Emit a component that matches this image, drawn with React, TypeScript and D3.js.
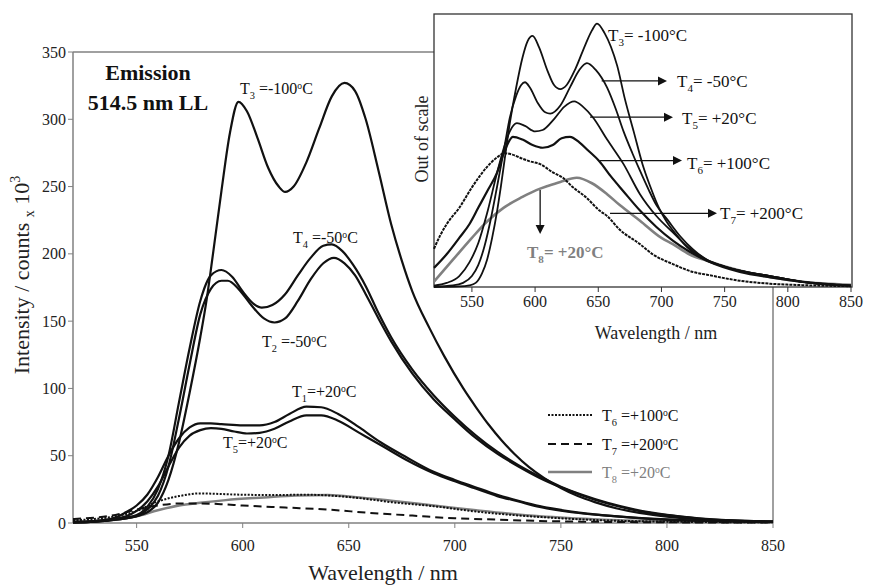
import * as d3 from 'd3';

// main panel: emission spectra, intensity in counts x 10^3, [wavelength nm, value]
const mainT1 = [[520,1],[530,1.5],[540,4],[545,8],[550,13],[555,21],[560,34],[565,50],[570,63],[575,71],[580,74],[585,74],[590,73.5],[600,72.5],[608,72.5],[615,75],[622,81],[630,86.5],[637,86],[645,81],[655,71],[665,60],[677,49],[690,38],[700,32],[709,27],[720,21],[730,16.5],[740,12.5],[755,8.5],[772,5.5],[790,3.5],[810,2],[830,1.2],[850,0.8]];
const mainT2 = [[520,0.5],[530,1],[540,2.5],[550,5],[555,10],[560,20],[565,42],[570,78],[575,118],[580,155],[585,174],[590,180],[593,180],[598,174],[604,162],[610,152],[615,149],[620,152],[626,165],[632,181],[638,193],[643,197],[648,193],[653,184],[658,170],[664,152],[670,135],[680,111],[690,92],[700,77],[710,63],[720,51.5],[730,42],[740,33.5],[750,26.5],[760,20.5],[772,14.5],[785,9.5],[800,5.8],[815,3.3],[830,1.9],[850,1]];
const mainT3 = [[520,0.5],[530,1],[540,2.5],[550,5],[555,8],[560,15],[565,32],[570,60],[575,97],[580,138],[583,166],[586,200],[590,247],[594,290],[598,313],[602,306],[607,286],[612,264],[617,250],[620,246],[624,250],[630,268],[636,293],[642,317],[648,327],[653,321],[658,300],[664,262],[670,222],[675,195],[680,172],[688,145],[695,124],[704,100],[710,86],[716,73],[722,61.5],[728,51.5],[735,41.5],[742,33.5],[750,26],[758,20],[766,15.5],[776,11],[787,7.5],[800,4.8],[815,2.8],[830,1.7],[850,1]];
const mainT4 = [[520,0.5],[530,1],[540,3],[550,6],[555,12],[560,25],[565,50],[570,90],[575,130],[580,165],[585,184],[590,188],[595,183],[600,172],[605,163],[609,160],[614,162],[620,170],[626,184],[632,197],[638,206],[642,207],[647,202],[652,192],[658,176],[664,156],[670,138],[680,114],[690,95],[700,79],[710,65],[720,53],[730,43],[740,34.5],[750,27],[760,21],[772,15],[785,10],[800,6],[815,3.5],[830,2],[850,1]];
const mainT5 = [[520,0.5],[530,1],[540,3],[545,5],[550,9],[555,16],[560,27],[565,42],[570,56],[575,65],[580,69],[585,70.5],[590,70],[596,68],[602,66.5],[608,67],[615,70],[622,75.5],[630,80],[637,80],[645,76],[655,67],[665,58],[677,47],[690,37],[700,31],[709,26],[720,20],[730,16],[740,12],[755,8],[772,5.5],[790,3.3],[810,1.9],[830,1.1],[850,0.8]];
const mainT6 = [[520,2],[530,3],[540,5],[550,9],[560,16],[570,20],[580,22],[590,21.5],[600,21],[615,20.8],[630,21],[640,20.5],[655,18.5],[670,15.5],[690,12.5],[710,8.5],[740,4.5],[770,2],[800,1],[850,0.5]];
const mainT7 = [[520,3],[530,4],[540,6],[550,10],[560,13],[570,14.5],[580,14.5],[590,14],[600,13],[620,11.5],[640,10],[660,7.5],[680,5.5],[700,3.5],[720,2.5],[740,1.5],[760,1],[800,0.5],[850,0.3]];
const mainT8 = [[520,1],[530,1.5],[540,2.5],[550,5],[560,9.5],[570,13],[580,15],[592,17],[610,19],[625,20.5],[640,20.8],[655,19],[670,16.5],[690,13],[710,9.5],[740,5],[770,2.5],[800,1.2],[850,0.5]];

// inset: arbitrary units ("out of scale")
const insetT3 = [[520,0],[540,0.2],[548,0.6],[553,1.5],[558,5],[562,10],[566,18],[570,28],[573,37],[576,47],[580,60],[585,73],[590,84],[594,90],[598,92],[603,88],[610,79],[615,74],[620,72.5],[625,74],[632,80],[640,89],[645,94],[649,96.5],[655,93],[660,88],[665,81],[671,69],[678,57],[685,45],[691,37],[698,29],[704,24],[712,19],[720,14.7],[736,9.6],[750,7.5],[762,6],[786,4],[810,2],[830,1],[850,0.5]];
const insetT4 = [[520,0.2],[535,0.6],[543,1.5],[550,4],[555,8],[560,15],[565,25],[570,37],[576,52],[580,62],[585,70],[589,74],[592,75],[596,73],[602,67.5],[608,64],[612,63.5],[620,66.5],[628,73.5],[635,79.5],[641,82],[648,79.5],[657,73],[664,65],[670,57],[677,49],[683,42.6],[690,35.5],[696,30],[705,24.5],[715,18.5],[725,13.8],[736,10],[750,7.5],[762,6],[786,4],[810,2],[830,1],[850,0.5]];
const insetT5 = [[520,0.5],[530,1.5],[540,4],[548,9],[555,16],[562,27],[570,42],[576,52],[580,57],[585.6,60],[592,59],[600,57],[606,57.5],[615,61.5],[623,66],[631,68],[638,66],[646,62],[657,54],[670,45],[683,34],[696,26],[709,20],[722,14.3],[736,10],[750,7.5],[762,6],[786,4],[810,2],[830,1],[850,0.5]];
const insetT6 = [[520,7],[530,12],[540,18],[548,23],[555,29],[562,35],[570,42],[576,50],[582.5,55],[590,54],[598,52],[606,51],[614,52],[621,54.5],[627.6,55],[635,53],[642,50],[651,46],[660,40.5],[670,35],[683,28],[696,22],[709,17],[722,13],[736,9.6],[762,5.5],[786,3.5],[810,2],[850,0.5]];
const insetT7 = [[520,14],[525,19],[530,23],[540,29],[550,36.5],[562,44],[570,47.5],[576,49],[582,48.5],[590,47],[596,46],[604,45],[614,42],[622,40],[630,36.5],[640,33],[651,28],[657,26],[667,21],[683,15.7],[693,12],[709,8.4],[725,5.5],[736,4.5],[762,2.3],[786,1.2],[810,0.7],[850,0.3]];
const insetT8 = [[520,2],[535,10],[550,18],[562,24],[575,29],[590,33],[601,35.5],[610,37],[620,38.5],[633,40],[645,38],[657,34],[667,30],[683,24.3],[700,18],[709,15.7],[722,12],[736,9.6],[762,6],[786,3.7],[810,2],[850,0.8]];

const xTicks = [550, 600, 650, 700, 750, 800, 850];
const yTicks = [0, 50, 100, 150, 200, 250, 300, 350];

const FONT = '"Liberation Serif", "Times New Roman", serif';
const INK = '#111';
const GRAY = '#808080';

function TLabel({ x, y, sub, rest, size = 16, fill = INK, supO = false, weight = 'normal' }) {
  const d = size * 0.3;
  return (
    <text x={x} y={y} fontSize={size} fill={fill} fontFamily={FONT} fontWeight={weight}>
      T
      <tspan dy={d} fontSize={size * 0.65}>{sub}</tspan>
      <tspan dy={-d}>{rest}</tspan>
      {supO && (
        <>
          <tspan dy={-size * 0.32} fontSize={size * 0.6}>o</tspan>
          <tspan dy={size * 0.32}>C</tspan>
        </>
      )}
    </text>
  );
}

function Arrow({ x1, y1, x2, y2 }) {
  const ang = Math.atan2(y2 - y1, x2 - x1);
  const L = 9, W = 4.5;
  const bx = x2 - L * Math.cos(ang), by = y2 - L * Math.sin(ang);
  const px = -Math.sin(ang) * W, py = Math.cos(ang) * W;
  return (
    <g>
      <line x1={x1} y1={y1} x2={bx} y2={by} stroke={INK} strokeWidth={1.3} />
      <path d={`M${x2},${y2}L${bx + px},${by + py}L${bx - px},${by - py}Z`} fill={INK} />
    </g>
  );
}

export default function App() {
  const W = 872, H = 587;
  const x = d3.scaleLinear().domain([520, 850]).range([73, 773]);
  const y = d3.scaleLinear().domain([0, 350]).range([523, 52]);
  const xi = d3.scaleLinear().domain([520, 850]).range([434, 851]);
  const yi = d3.scaleLinear().domain([0, 100]).range([287, 14]);

  const line = d3.line().x(d => x(d[0])).y(d => y(d[1])).curve(d3.curveMonotoneX);
  const lineI = d3.line().x(d => xi(d[0])).y(d => yi(d[1])).curve(d3.curveMonotoneX);

  const mainSolid = [mainT1, mainT2, mainT3, mainT4, mainT5];
  const insetSolid = [insetT3, insetT4, insetT5, insetT6];

  return (
    <svg width={W} height={H} style={{ position: 'absolute', left: 0, top: 0, background: '#fff' }}>
      <rect width={W} height={H} fill="#fff" />

      {/* main frame */}
      <g stroke={GRAY} strokeWidth={1.5} fill="none">
        <line x1={73} y1={52} x2={434} y2={52} />
        <line x1={773} y1={287} x2={773} y2={523} />
        <line x1={73} y1={52} x2={73} y2={523} />
        <line x1={73} y1={523} x2={773} y2={523} />
      </g>
      {yTicks.map(t => (
        <g key={'y' + t}>
          <line x1={68} x2={73} y1={y(t)} y2={y(t)} stroke={GRAY} strokeWidth={1} />
          <text x={66} y={y(t)} dy="0.35em" textAnchor="end" fontSize={16} fontFamily={FONT} fill="#222">{t}</text>
        </g>
      ))}
      {xTicks.map(t => (
        <g key={'x' + t}>
          <line x1={x(t)} x2={x(t)} y1={523} y2={528} stroke={GRAY} strokeWidth={1} />
          <text x={x(t)} y={545} dy="0.35em" textAnchor="middle" fontSize={16} fontFamily={FONT} fill="#222">{t}</text>
        </g>
      ))}
      <text x={383} y={580} textAnchor="middle" fontSize={22} fontFamily={FONT} fill="#222">Wavelength / nm</text>
      <text transform="translate(29,275) rotate(-90)" textAnchor="middle" fontSize={22} fontFamily={FONT} fill="#222">
        Intensity / counts <tspan dy={5} fontSize={14}>x</tspan><tspan dy={-5}> 10</tspan><tspan dy={-9} fontSize={14}>3</tspan>
      </text>
      <text x={148} y={80} textAnchor="middle" fontSize={22} fontWeight="bold" fontFamily={FONT} fill={INK}>Emission</text>
      <text x={148} y={110} textAnchor="middle" fontSize={22} fontWeight="bold" fontFamily={FONT} fill={INK}>514.5 nm LL</text>

      {/* main curves */}
      <path d={line(mainT8)} fill="none" stroke={GRAY} strokeWidth={2.5} />
      <path d={line(mainT6)} fill="none" stroke={INK} strokeWidth={2} strokeDasharray="2,1.5" />
      <path d={line(mainT7)} fill="none" stroke={INK} strokeWidth={2} strokeDasharray="8,5" />
      {mainSolid.map((s, i) => (
        <path key={i} d={line(s)} fill="none" stroke={INK} strokeWidth={2.2} />
      ))}

      <TLabel x={240} y={94} sub="3" rest=" =-100" supO />
      <TLabel x={293} y={243} sub="4" rest=" =-50" supO />
      <TLabel x={262} y={347} sub="2" rest=" =-50" supO />
      <TLabel x={292} y={397} sub="1" rest="=+20" supO />
      <TLabel x={223} y={448} sub="5" rest="=+20" supO />

      {/* legend */}
      <line x1={548} x2={592} y1={415} y2={415} stroke={INK} strokeWidth={2} strokeDasharray="2,1.5" />
      <line x1={548} x2={592} y1={444} y2={444} stroke={INK} strokeWidth={2} strokeDasharray="8,5" />
      <line x1={548} x2={592} y1={472} y2={472} stroke={GRAY} strokeWidth={2.5} />
      <TLabel x={602} y={421} sub="6" rest=" =+100" supO />
      <TLabel x={602} y={450} sub="7" rest=" =+200" supO />
      <TLabel x={602} y={478} sub="8" rest=" =+20" supO fill={GRAY} />

      {/* inset */}
      <rect x={434} y={14} width={418} height={273} fill="#fff" stroke="#333" strokeWidth={1.3} />
      {xTicks.map(t => (
        <g key={'xi' + t}>
          <line x1={xi(t)} x2={xi(t)} y1={287} y2={292} stroke="#333" strokeWidth={1} />
          <text x={xi(t)} y={301} dy="0.35em" textAnchor="middle" fontSize={16} fontFamily={FONT} fill="#222">{t}</text>
        </g>
      ))}
      <text x={656} y={339} textAnchor="middle" fontSize={18} fontFamily={FONT} fill="#222">Wavelength / nm</text>
      <text transform="translate(428,139) rotate(-90)" textAnchor="middle" fontSize={18} fontFamily={FONT} fill="#222">Out of scale</text>

      <path d={lineI(insetT8)} fill="none" stroke={GRAY} strokeWidth={2.6} />
      <path d={lineI(insetT7)} fill="none" stroke={INK} strokeWidth={2} strokeDasharray="3,1" />
      {insetSolid.map((s, i) => (
        <path key={i} d={lineI(s)} fill="none" stroke={INK} strokeWidth={i === 3 ? 2.2 : 1.8} />
      ))}

      <Arrow x1={xi(652.7)} y1={yi(75.5)} x2={667} y2={yi(75.5)} />
      <Arrow x1={xi(643.5)} y1={yi(62.2)} x2={673} y2={yi(62.2)} />
      <Arrow x1={xi(651.4)} y1={yi(46.3)} x2={682} y2={yi(46.3)} />
      <Arrow x1={xi(659.3)} y1={yi(27)} x2={717} y2={yi(27)} />
      <Arrow x1={xi(604)} y1={yi(35.5)} x2={xi(604)} y2={234} />

      <TLabel x={608} y={41} sub="3" rest="= -100°C" size={17} />
      <TLabel x={677} y={87} sub="4" rest="= -50°C" size={17} />
      <TLabel x={682} y={124} sub="5" rest="= +20°C" size={17} />
      <TLabel x={687} y={169} sub="6" rest="= +100°C" size={17} />
      <TLabel x={720} y={219} sub="7" rest="= +200°C" size={17} />
      <TLabel x={527} y={258} sub="8" rest="= +20°C" size={17} fill={GRAY} weight="bold" />
    </svg>
  );
}
